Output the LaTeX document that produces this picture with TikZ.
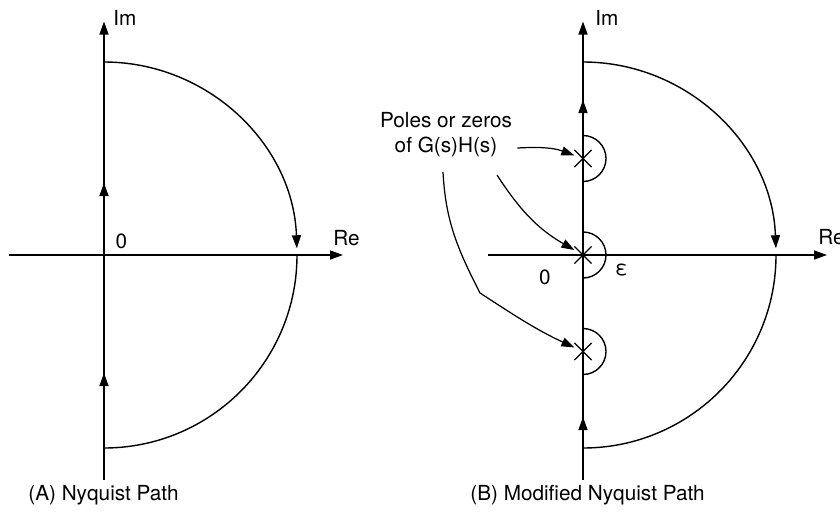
\documentclass[tikz,border=0pt]{standalone}
\usepackage{fontspec}
\setmainfont{TeX Gyre Heros}
\usetikzlibrary{arrows.meta, positioning, calc, shapes.misc}

\tikzset{
  axis/.style={line width=0.8pt, -{Triangle[length=2.6mm,width=1.8mm]}},
  pathline/.style={line width=0.8pt},
  pointer/.style={line width=0.7pt, -{Triangle[length=2.6mm,width=1.8mm]}},
  pole/.style={cross out, draw, line width=0.7pt, minimum size=0.32cm, inner sep=0pt},
  lbl/.style={font=\fontsize{11.8}{14.2}\selectfont, inner sep=0pt},
}

\begin{document}
\begin{tikzpicture}
  \useasboundingbox (0,0) rectangle (16.8,10.32);

  % (A) Nyquist path
  \begin{scope}[shift={(2.08,5.22)}]
    \draw[axis] (-1.9,0) -- (4.78,0);
    \draw[axis] (0,-4.5) -- (0,-2.36);
    \draw[axis] (0,-2.4) -- (0,1.44);
    \draw[axis] (0,1.4) -- (0,4.67);
    \draw[axis] (0,3.86) arc[start angle=90, end angle=2, radius=3.86];
    \draw[pathline] (3.86,0) arc[start angle=0, end angle=-90, radius=3.86];
    \node[lbl, anchor=west] (imA) at (0.18,4.74) {Im};
    \node[lbl, anchor=west] (reA) at (4.58,0.34) {Re};
    \node[lbl] (zeroA) at (0.35,0.27) {0};
    \node[lbl, anchor=west] (capA) at (-1.52,-4.8) {(A) Nyquist Path};
  \end{scope}

  % (B) modified Nyquist path
  \begin{scope}[shift={(11.66,5.22)}]
    \draw[axis] (-1.9,0) -- (4.88,0);
    \draw[axis] (0,-4.5) -- (0,-3.24);
    \draw[axis] (0,-3.3) -- (0,3.1);
    \draw[axis] (0,3.05) -- (0,4.67);
    \draw[axis] (0,3.86) arc[start angle=90, end angle=2, radius=3.86];
    \draw[pathline] (3.86,0) arc[start angle=0, end angle=-90, radius=3.86];
    \foreach \y/\n in {1.93/p1, 0/p2, -1.93/p3} {
      \node[pole] (\n) at (0,\y) {};
      \draw[pathline] (0,\y+0.46) arc[start angle=90, end angle=-90, radius=0.46];
    }
    \node[lbl, anchor=west] (imB) at (0.24,4.74) {Im};
    \node[lbl, anchor=west] (reB) at (4.7,0.36) {Re};
    \node[lbl] (zeroB) at (-0.76,-0.44) {0};
    \node[lbl] (eps) at (0.77,-0.3) {ε};
    \node[lbl, anchor=west] (capB) at (-2.26,-4.8) {(B) Modified Nyquist Path};

    \node[lbl, align=center] (pz) at (-2.74,2.4) {Poles or zeros\\of G(s)H(s)};
    \coordinate (s1) at ($(pz.east)+(0.1,-0.26)$);
    \coordinate (s2) at (-1.72,1.6);
    \coordinate (s3) at (-2.8,1.66);
    \coordinate (k3) at (-2.06,-0.76);
    \draw[pointer] (s1) to[out=3, in=160] (p1);
    \draw[pointer] (s2) to[out=-57, in=150] (p2);
    \draw[pointer] (s3) to[out=-87, in=117] (k3) to[out=-33, in=155] (p3);
  \end{scope}
\end{tikzpicture}
\end{document}
